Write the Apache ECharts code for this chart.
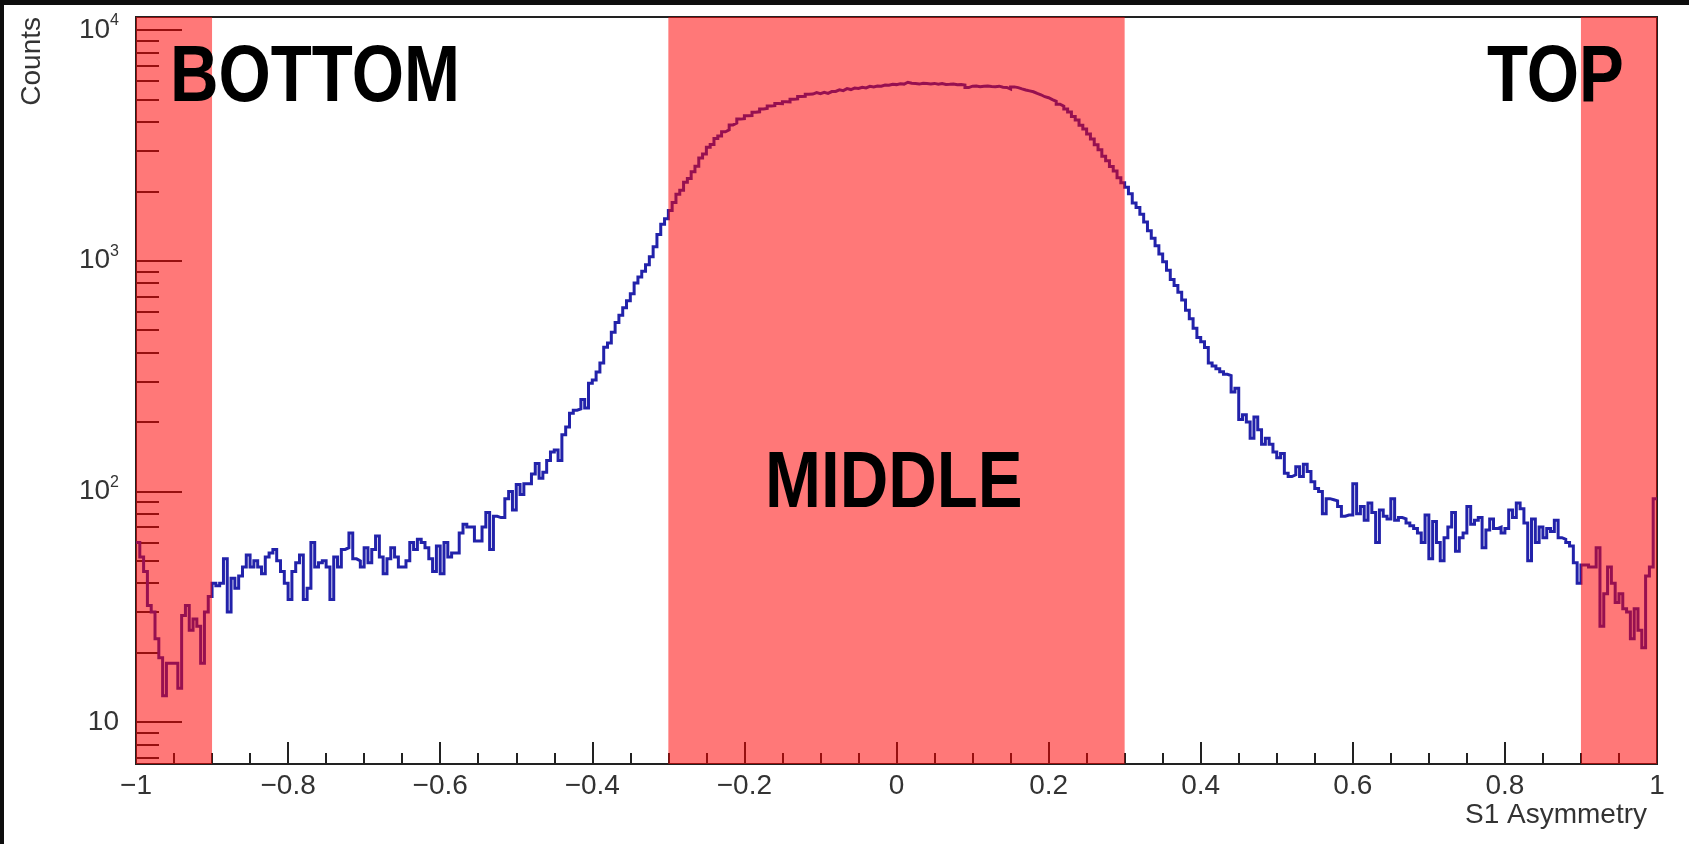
<!DOCTYPE html>
<html>
<head>
<meta charset="utf-8">
<title>S1 Asymmetry</title>
<script src="https://cdn.jsdelivr.net/npm/echarts@6/dist/echarts.min.js"></script>
<style>
  html, body { margin: 0; padding: 0; background: #0e0e0e; }
  #chart { position: absolute; left: 4px; top: 5px; width: 1685px; height: 839px; background: #fff; }
</style>
</head>
<body>
<div id="chart"></div>
<script>
// histogram binning: 400 bins from -1 to 1
const binStart = -1
const binWidth = 0.005

// counts per bin, region by region
const countsBottom = [60, 52, 45, 32, 30, 23, 19, 13, 18, 18, 18, 14, 29, 32, 25, 28, 26, 18, 30, 35]

const countsLeftSide = [
  40, 39, 40, 51, 30, 42, 38, 43, 47, 53, 47, 50, 47, 44, 52, 54, 56, 50, 45, 40,
  34, 45, 49, 53, 34, 38, 60, 47, 49, 50, 47, 34, 52, 47, 56, 57, 66, 51, 50, 47,
  57, 49, 56, 64, 52, 44, 51, 57,
  52, 47, 47, 50, 60, 56, 62, 60, 57, 51, 45, 58, 44, 60, 52, 54, 54, 66, 72, 70,
  70, 61, 61, 70, 81, 56, 78, 77, 77, 93, 100, 83, 107, 97, 108, 108, 119, 132, 114, 121,
  136, 148, 151, 136, 176, 190, 218, 225, 228, 250, 230, 294, 304, 329, 360, 422, 440, 490, 540, 580,
  625, 670, 720, 800, 850, 900, 960, 1040, 1150, 1300, 1440, 1520
]

const countsMiddle = [
  1650, 1790, 1940, 2020, 2190, 2270, 2430, 2570, 2790, 2900,
  3100, 3190, 3390, 3470, 3620, 3690, 3880, 3950, 4110, 4130,
  4250, 4260, 4400, 4420, 4550, 4570, 4690, 4700, 4800, 4790,
  4890, 4880, 5010, 5030, 5150, 5160, 5270, 5280, 5360, 5300,
  5370, 5310, 5410, 5420, 5510, 5460, 5570, 5520, 5600, 5580,
  5650, 5610, 5700, 5660, 5720, 5710, 5780, 5760, 5820, 5800,
  5850, 5830, 5940, 5880, 5860, 5830, 5880, 5870, 5840, 5870,
  5820, 5860, 5810, 5820, 5840, 5790, 5800, 5770, 5630, 5710,
  5720, 5680, 5710, 5720, 5690, 5680, 5710, 5650, 5640, 5550,
  5670, 5630, 5560, 5500, 5450, 5400, 5310, 5240, 5140, 5090,
  4990, 4910, 4770, 4680, 4550, 4410, 4220, 4070, 3870, 3720,
  3540, 3370, 3180, 3030, 2840, 2710, 2560, 2450, 2290, 2180
]

const countsRightSide = [
  2080, 1950, 1780, 1700, 1590, 1470, 1350, 1250, 1160, 1070,
  990, 910, 830, 780, 730, 675, 610, 560, 510, 465,
  445, 420, 360, 350, 340, 330, 322, 318, 270, 280,
  205, 215, 200, 170, 210, 185, 160, 170, 160, 148,
  140, 146, 120, 116, 118, 128, 116, 131, 122, 110,
  103, 100, 80, 93, 92, 91, 86, 78, 79, 79,
  108, 80, 86, 75, 89, 81, 60, 83, 78, 76,
  93, 75, 77, 76, 73, 71, 69, 66, 60, 79,
  51, 74, 60, 50, 63, 70, 81, 55, 63, 66,
  86, 72, 75, 77, 57, 68, 76, 69, 70, 66,
  69, 83, 77, 89, 84, 73, 50, 76, 60, 70,
  63, 69, 67, 75, 63, 62, 60, 58, 49, 40
]

const countsTop = [48, 48, 47, 47, 57, 26, 36, 47, 40, 33, 36, 31, 30, 23, 31, 25, 21, 43, 47, 93]

// axes
const yMin = 6.58
const yMax = 11390
const yMajorTicks = [10, 100, 1000, 10000]
const yMinorTicks = [7, 8, 9, 20, 30, 40, 50, 60, 70, 80, 90,
  200, 300, 400, 500, 600, 700, 800, 900,
  2000, 3000, 4000, 5000, 6000, 7000, 8000, 9000]

// shaded regions and their names
const bands = [[-1, -0.9], [-0.3, 0.3], [0.9, 1]]
const regionLabels = ['BOTTOM', 'MIDDLE', 'TOP']

const counts = [].concat(countsBottom, countsLeftSide, countsMiddle, countsRightSide, countsTop)
const histData = counts.map((c, i) => [+(binStart + i * binWidth).toFixed(3), c])
histData.push([+(binStart + counts.length * binWidth).toFixed(3), counts[counts.length - 1]])

const axisColor = '#222'
const textColor = '#333'
const sans = '"Liberation Sans", Arial, Helvetica, sans-serif'

// big region names: bold sans squeezed horizontally, drawn above the bands
function regionText (text, x, y) {
  return {
    type: 'text', x: x, y: y, z: 100, scaleX: 0.84,
    style: { text: text, fontSize: 80, fontWeight: 'bold', fontFamily: sans, fill: '#000', verticalAlign: 'middle' }
  }
}

const chart = echarts.init(document.getElementById('chart'))

chart.setOption({
  animation: false,
  grid: {
    left: 132, top: 12, width: 1521, height: 747,
    outerBoundsMode: 'none',
    containLabel: false,
    show: true, borderColor: axisColor, borderWidth: 2, backgroundColor: '#fff'
  },
  xAxis: {
    type: 'value',
    min: -1,
    max: 1,
    interval: 0.2,
    axisLine: { show: true, onZero: false, lineStyle: { color: axisColor, width: 2 } },
    axisTick: { show: true, inside: true, length: 22, lineStyle: { color: axisColor, width: 2 } },
    minorTick: { show: true, splitNumber: 4, length: 11, lineStyle: { color: axisColor, width: 2 } },
    splitLine: { show: false },
    axisLabel: {
      fontSize: 28, fontFamily: sans, color: textColor, margin: 8,
      formatter: (v) => {
        const r = +v.toFixed(2)
        return (r < 0 ? '\u2212' : '') + Math.abs(r)
      }
    }
  },
  yAxis: [
    {
      type: 'log',
      logBase: 10,
      min: yMin,
      max: yMax,
      position: 'left',
      axisLine: { show: true, onZero: false, lineStyle: { color: axisColor, width: 2 } },
      axisTick: { show: true, inside: true, length: 46, customValues: yMajorTicks, lineStyle: { color: axisColor, width: 2 } },
      splitLine: { show: false },
      axisLabel: {
        customValues: yMajorTicks,
        margin: 17,
        color: textColor,
        fontFamily: sans,
        formatter: (v) => {
          const e = Math.round(Math.log10(v))
          return e === 1 ? '{b|10}' : '{b|10}{sup|' + e + '}'
        },
        rich: {
          b: { fontSize: 28, lineHeight: 34, fontFamily: sans, color: textColor },
          sup: { fontSize: 16, lineHeight: 16, verticalAlign: 'top', fontFamily: sans, color: textColor }
        }
      }
    },
    {
      type: 'log',
      logBase: 10,
      min: yMin,
      max: yMax,
      position: 'left',
      axisLine: { show: false, onZero: false },
      axisTick: { show: true, inside: true, length: 23, customValues: yMinorTicks, lineStyle: { color: axisColor, width: 2 } },
      axisLabel: { show: false },
      splitLine: { show: false }
    }
  ],
  series: [
    {
      type: 'line',
      step: 'end',
      data: histData,
      symbol: 'none',
      yAxisIndex: 0,
      z: 2,
      lineStyle: { color: '#2222aa', width: 3, join: 'miter' }
    },
    {
      // translucent red bands laid over the histogram
      type: 'line',
      data: [],
      yAxisIndex: 0,
      z: 5,
      markArea: {
        z: 10,
        silent: true,
        itemStyle: { color: 'rgba(255, 0, 0, 0.53)' },
        data: bands.map(b => [{ xAxis: b[0] }, { xAxis: b[1] }])
      }
    }
  ],
  graphic: [
    {
      type: 'text', x: 28, y: 12, rotation: Math.PI / 2,
      style: { text: 'Counts', fontSize: 28, fontFamily: sans, fill: textColor, align: 'right', verticalAlign: 'middle' }
    },
    {
      type: 'text', x: 1643, y: 810,
      style: { text: 'S1 Asymmetry', fontSize: 28, fontFamily: sans, fill: textColor, align: 'right', verticalAlign: 'middle' }
    },
    regionText(regionLabels[0], 166, 74),
    regionText(regionLabels[1], 761, 480),
    regionText(regionLabels[2], 1483, 74)
  ]
})
</script>
</body>
</html>
